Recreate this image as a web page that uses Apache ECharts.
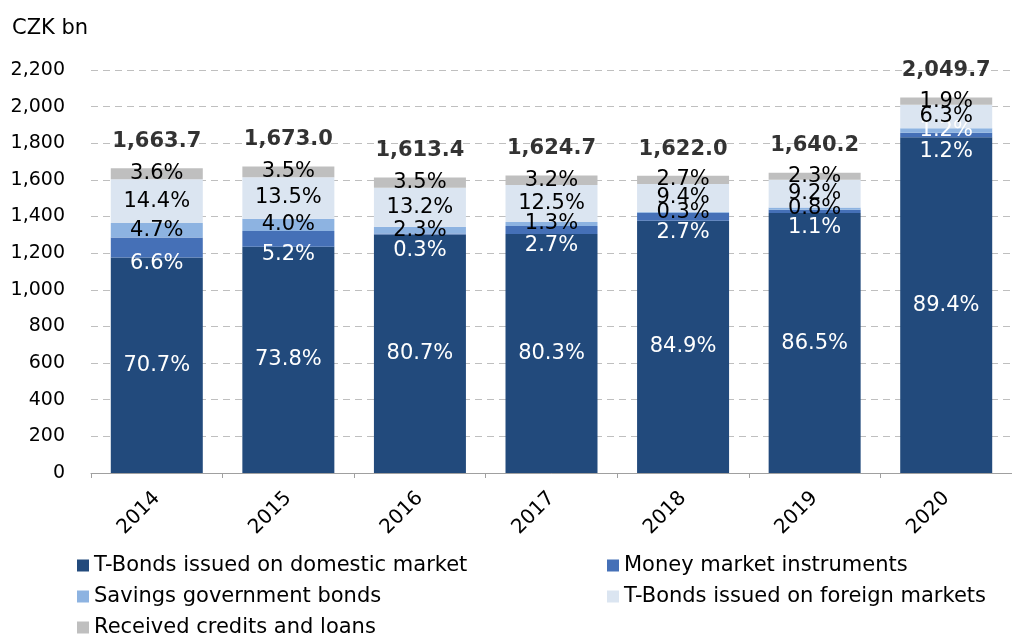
<!DOCTYPE html>
<html>
<head>
<meta charset="utf-8">
<script src="https://cdn.jsdelivr.net/npm/echarts@6/dist/echarts.min.js"></script>
<style>
  html, body { margin: 0; padding: 0; background: #fff; }
  #chart { width: 1012px; height: 635px; }
</style>
</head>
<body>
<div id="chart"></div>
<script>
// ===== datos (CZK bn) =====
const YEARS = ['2014', '2015', '2016', '2017', '2018', '2019', '2020'];
const TOTALS = [1663.7, 1673.0, 1613.4, 1624.7, 1622.0, 1640.2, 2049.7];

const DOMESTIC = [1176.2, 1234.7, 1302.0, 1304.6, 1377.1, 1418.8, 1832.4];
const MONEY_MKT = [109.8, 87.0, 4.8, 43.9, 43.8, 18.0, 24.6];
const SAVINGS = [78.2, 66.9, 37.1, 21.1, 4.9, 13.1, 24.6];
const FOREIGN = [239.6, 225.9, 213.0, 203.1, 152.5, 150.9, 129.1];
const LOANS = [59.9, 58.6, 56.5, 52.0, 43.8, 37.7, 38.9];

// etiquetas de porcentaje tal como aparecen
const DOMESTIC_PCT = ['70.7%', '73.8%', '80.7%', '80.3%', '84.9%', '86.5%', '89.4%'];
const MONEY_MKT_PCT = ['6.6%', '5.2%', '0.3%', '2.7%', '2.7%', '1.1%', '1.2%'];
const SAVINGS_PCT = ['4.7%', '4.0%', '2.3%', '1.3%', '0.3%', '0.8%', '1.2%'];
const FOREIGN_PCT = ['14.4%', '13.5%', '13.2%', '12.5%', '9.4%', '9.2%', '6.3%'];
const LOANS_PCT = ['3.6%', '3.5%', '3.5%', '3.2%', '2.7%', '2.3%', '1.9%'];

const Y_MAX = 2200, Y_STEP = 200;

// ---- estilo ----
const FONT = '"DejaVu Sans", Verdana, sans-serif';
const fmt = n => Number(n).toLocaleString('en-US', { minimumFractionDigits: 1, maximumFractionDigits: 1 });

function stackSeries(name, values, pcts, color, labelColor) {
  return {
    name, type: 'bar', stack: 'debt', data: values,
    barWidth: 92,
    itemStyle: { color },
    label: {
      show: true, position: 'inside', color: labelColor,
      fontFamily: FONT, fontSize: 21,
      formatter: p => pcts[p.dataIndex],
    },
    emphasis: { disabled: true },
  };
}

const series = [
  stackSeries('T-Bonds issued on domestic market', DOMESTIC, DOMESTIC_PCT, '#224A7C', '#fff'),
  stackSeries('Money market instruments', MONEY_MKT, MONEY_MKT_PCT, '#4570B7', '#fff'),
  stackSeries('Savings government bonds', SAVINGS, SAVINGS_PCT, '#8DB3E1', '#000'),
  stackSeries('T-Bonds issued on foreign markets', FOREIGN, FOREIGN_PCT, '#DBE5F1', '#000'),
  stackSeries('Received credits and loans', LOANS, LOANS_PCT, '#BFBFBF', '#000'),
  {
    name: 'total', type: 'scatter', data: TOTALS, symbolSize: 0, z: 5,
    label: {
      show: true, position: 'top', distance: 16, color: '#000',
      fontFamily: FONT, fontSize: 21, fontWeight: 'bold',
      formatter: p => fmt(p.value),
    },
  },
];
// el rótulo del tramo chico de money market cae debajo, como en Excel
series[1].label.offset = [0, 16];
// 2020: rótulo de bonos de ahorro en blanco
series[2].data = SAVINGS.map((v, i) => i === 6 ? { value: v, label: { color: '#fff' } } : v);

const legendBase = {
  orient: 'vertical', icon: 'rect', itemWidth: 12, itemHeight: 12, itemGap: 10,
  height: 110,
  textStyle: { fontFamily: FONT, fontSize: 21, color: '#000' },
  selectedMode: false,
};

const chart = echarts.init(document.getElementById('chart'), null, { renderer: 'canvas' });
chart.setOption({
  animation: false,
  backgroundColor: '#fff',
  title: {
    text: 'CZK bn', left: 7, top: 13,
    textStyle: { fontFamily: FONT, fontSize: 21, fontWeight: 'normal', color: '#000' },
  },
  grid: { left: 91, top: 70, width: 927, height: 403, containLabel: false },
  legend: [
    Object.assign({ left: 72, top: 550, data: [series[0].name, series[2].name, series[4].name] }, legendBase),
    Object.assign({ left: 602, top: 550, data: [series[1].name, series[3].name] }, legendBase),
  ],
  xAxis: {
    type: 'category', data: YEARS,
    axisLine: { lineStyle: { color: '#A0A0A0', width: 1 } },
    axisTick: { show: true, length: 5, lineStyle: { color: '#A0A0A0' } },
    axisLabel: { rotate: 45, margin: 22, color: '#000', fontFamily: FONT, fontSize: 20 },
  },
  yAxis: {
    type: 'value', min: 0, max: Y_MAX, interval: Y_STEP,
    axisLine: { show: false }, axisTick: { show: false },
    axisLabel: { margin: 26, color: '#000', fontFamily: FONT, fontSize: 19, formatter: v => v.toLocaleString('en-US') },
    splitLine: { lineStyle: { color: '#BFBFBF', type: [7, 5], width: 1 } },
  },
  series,
});
</script>
</body>
</html>
